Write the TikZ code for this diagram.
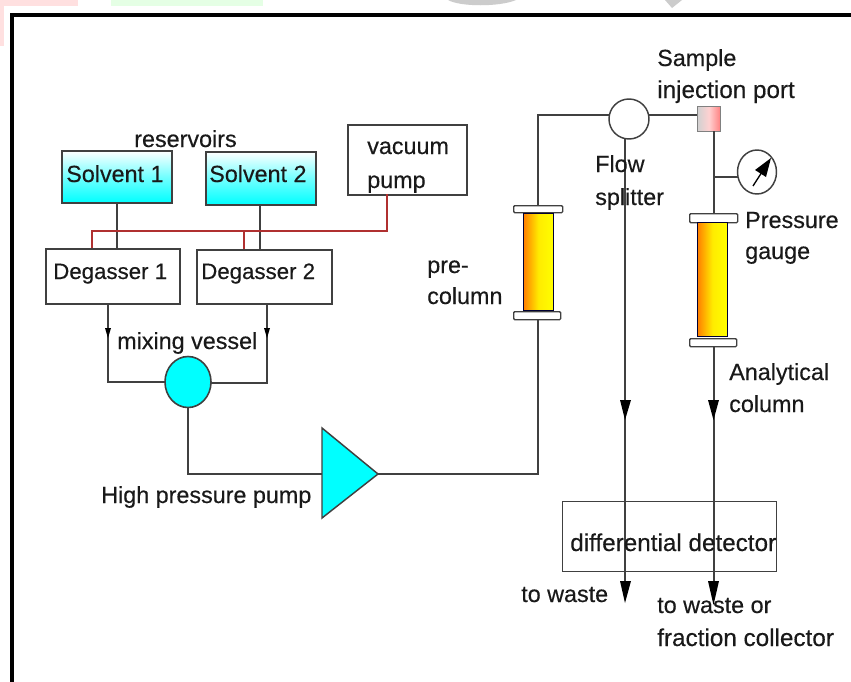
\documentclass[tikz,border=0pt]{standalone}
\usepackage{fontspec}
\setmainfont{Liberation Sans}[FakeBold=0.35]
\newfontfamily\labfont{Liberation Sans}[FakeBold=0.35]
\usetikzlibrary{arrows.meta,shapes.geometric}
\definecolor{wirec}{HTML}{404040}
\definecolor{vacc}{HTML}{B03030}
\definecolor{cyanf}{HTML}{00FFFF}
\tikzset{
  x=0.75pt,y=-0.75pt,
  wire/.style={draw=wirec,line width=1.5pt},
  vacw/.style={draw=vacc,line width=1.1pt},
  box/.style={draw=wirec,line width=1.2pt,fill=white,anchor=north west,inner sep=0pt},
  solv/.style={box,top color=white,bottom color=cyanf,middle color=cyanf!55!white},
  lab/.style={font=\labfont\fontsize{17.5pt}{24pt}\selectfont,text=black!90,inner sep=0pt,anchor=base west},
  labn/.style={lab,font=\labfont\fontsize{16.7pt}{24pt}\selectfont},
  labw/.style={lab,font=\labfont\fontsize{18.2pt}{24pt}\selectfont},
  flange/.style={box,line width=1pt,rounded corners=0.8pt},
  colbody/.style={box,draw=black!80!blue,line width=.8pt,left color=orange,right color=yellow,middle color=yellow!85!orange},
  headtip/.style={fill=black},
}
\begin{document}
\begin{tikzpicture}
\useasboundingbox (0,0) rectangle (851,682);
\fill[white] (0,0) rectangle (851,682);
\fill[red!12] (0,0) rectangle (78,6); \fill[red!12] (0,0) rectangle (4,46);
\fill[green!10] (111,0) rectangle (263,6);
\fill[black!20] (448,0) .. controls (460,7) and (500,7) .. (516,0) -- cycle;
\fill[black!20] (665,0) -- (682,0) -- (672,8) -- cycle;
\draw[black,line width=3pt] (11.5,684) -- (11.5,14.5) -- (853,14.5);
% boxes
\node[box,minimum width=119*.75pt,minimum height=70*.75pt] (vp) at (347,124) {};
\node[solv,minimum width=110*.75pt,minimum height=52*.75pt] (s1) at (61,150) {};
\node[solv,minimum width=110*.75pt,minimum height=53*.75pt] (s2) at (205,151) {};
\node[box,minimum width=134*.75pt,minimum height=55*.75pt] (d1) at (45,248) {};
\node[box,minimum width=135*.75pt,minimum height=54*.75pt] (d2) at (196,249) {};
\draw[wire] (117,202) -- (117,248);
\draw[wire] (260,204) -- (260,249);
\draw[vacw] (387,194) -- (387,231) -- (92,231) -- (92,248);
\draw[vacw] (244,231) -- (244,249);
% mixing
\node[draw=wirec,line width=1.2pt,fill=cyanf,ellipse,minimum width=46*.75pt,minimum height=51*.75pt,inner sep=0pt] (mix) at (188,382) {};
\draw[wire] (108,303) -- (108,382) -- (165,382);
\draw[wire] (267,303) -- (267,383) -- (211,383);
\fill[headtip] (105,328) -- (111,328) -- (108,338) -- cycle;
\fill[headtip] (264,328) -- (270,328) -- (267,338) -- cycle;
% pump
\coordinate (pa) at (322,428); \coordinate (pb) at (322,518); \coordinate (pc) at (378,474);
\draw[wire] (mix.south) -- (188,474) -- (322,474);
\draw[wire] (pc) -- (538,474) -- (538,319);
\draw[wire] (538,205) -- (538,115) -- (609,115);
\draw[draw=wirec,line width=1.1pt,fill=cyanf] (pa) -- (pc) -- (pb) -- cycle;
% pre-column
\node[flange,minimum width=49*.75pt,minimum height=7*.75pt] (f1) at (513,205) {};
\node[flange,minimum width=47*.75pt,minimum height=8*.75pt] (f2) at (513,311) {};
\node[colbody,minimum width=30*.75pt,minimum height=97*.75pt] (c1) at (523,213) {};
% splitter
\node[draw=wirec,line width=1.1pt,fill=white,circle,minimum width=40*.75pt,inner sep=0pt] (fs) at (629,119) {};
\node[box,draw=black!50,line width=.8pt,minimum width=23*.75pt,minimum height=25*.75pt,left color=black!18,right color=red!50,middle color=red!18] (sip) at (697,106) {};
\draw[wire] (649,115) -- (697,115);
\draw[wire] (625,139) -- (625,590);
\draw[wire] (713.5,131) -- (713.5,213);
\draw[wire] (713.5,346) -- (713.5,594);
\draw[wire] (713.5,177) -- (738,177);
% gauge
\node[draw=wirec,line width=1.1pt,fill=white,ellipse,minimum width=39*.75pt,minimum height=44*.75pt,inner sep=0pt] (pg) at (757,172) {};
\draw[black,line width=1pt] (753,186) -- (762,172);
\fill[black] (771,158) -- (766,177) -- (755,170) -- cycle;
% analytical column
\node[flange,minimum width=48*.75pt,minimum height=9*.75pt] (f3) at (689,213) {};
\node[flange,minimum width=47*.75pt,minimum height=8*.75pt] (f4) at (689,338) {};
\node[colbody,minimum width=30*.75pt,minimum height=114*.75pt] (c2) at (697,222) {};
% flow arrows
\fill[headtip] (620,400) -- (631,400) -- (625,420) -- cycle;
\fill[headtip] (708,400) -- (719,400) -- (713.5,420) -- cycle;
\fill[headtip] (620,581) -- (631,581) -- (625,603) -- cycle;
\fill[headtip] (708,581) -- (719,581) -- (713.5,605) -- cycle;
% detector
\node[box,fill=none,line width=1pt,minimum width=214*.75pt,minimum height=70*.75pt] (det) at (562,501) {};
% labels
\node[lab] (t1) at (134,147) {reservoirs};
\node[lab] (t2) at (66,182) {Solvent 1};
\node[lab] (t3) at (209,182) {Solvent 2};
\node[lab] (t4) at (367,154) {vacuum};
\node[lab] (t5) at (367,188) {pump};
\node[labn] (t6) at (53,279) {Degasser 1};
\node[labn] (t7) at (201,279) {Degasser 2};
\node[lab] (t8) at (117,349) {mixing vessel};
\node[lab] (t9) at (101,503) {High pressure pump};
\node[lab] (t10) at (427,273) {pre-};
\node[lab] (t11) at (427,304) {column};
\node[lab] (t12) at (657,66) {Sample};
\node[labw] (t13) at (657,98) {injection port};
\node[lab] (t14) at (595,172) {Flow};
\node[lab] (t15) at (595,205) {splitter};
\node[lab] (t16) at (745,228) {Pressure};
\node[lab] (t17) at (745,259) {gauge};
\node[lab] (t18) at (729,380) {Analytical};
\node[lab] (t19) at (729,412) {column};
\node[labw] (t20) at (570,551) {differential detector};
\node[lab] (t21) at (521,602) {to waste};
\node[lab] (t22) at (657,613) {to waste or};
\node[labw] (t23) at (657,646) {fraction collector};
\end{tikzpicture}
\end{document}
